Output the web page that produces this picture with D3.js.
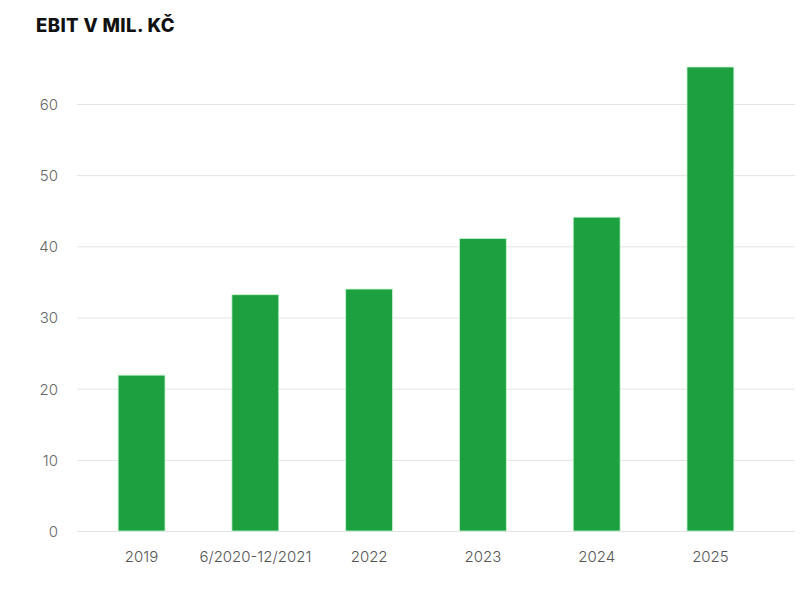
<!DOCTYPE html>
<html><head><meta charset="utf-8">
<script src="https://cdn.jsdelivr.net/npm/d3@7"></script>
<style>
html,body{margin:0;padding:0;background:#fff;}
svg{display:block;}
</style></head>
<body>
<svg id="chart" width="810" height="591"></svg>
<script>
const title = "EBIT V MIL. KČ";
const categories = ["2019", "6/2020-12/2021", "2022", "2023", "2024", "2025"];
const values = [21.9, 33.2, 34.0, 41.1, 44.1, 65.2];
const yTicks = [0, 10, 20, 30, 40, 50, 60];

const W = 810, H = 591;
const svg = d3.select("#chart");
const font = "Inter, 'Open Sans', sans-serif";

const plotLeft = 77, plotRight = 795, y0 = 531, y60 = 104;
const y = d3.scaleLinear().domain([0, 60]).range([y0, y60]);
const x = d3.scaleBand().domain(categories).range([84, 768]).paddingInner(0.588).paddingOuter(0.3);

svg.append("text").attr("x", 36).attr("y", 32)
  .attr("font-family", font).attr("font-weight", 800).attr("font-size", 18.5)
  .attr("fill", "#111").attr("letter-spacing", 0.4).text(title);

const yAxis = d3.axisLeft(y).tickValues(yTicks).tickSize(-(plotRight - plotLeft)).tickPadding(19);
const gy = svg.append("g").attr("transform", `translate(${plotLeft},0)`).call(yAxis);
gy.select(".domain").remove();
gy.selectAll(".tick line").attr("stroke", "#e3e3e3").attr("stroke-width", 1);
gy.selectAll(".tick text").attr("font-family", font).attr("font-size", 15).attr("font-weight", 300)
  .attr("fill", "#666").attr("dy", "0.36em");

svg.append("g").selectAll("rect").data(values).join("rect")
  .attr("x", (d, i) => x(categories[i]))
  .attr("width", x.bandwidth())
  .attr("y", d => y(d))
  .attr("height", d => y(0) - y(d))
  .attr("fill", "#1da040")
  .attr("stroke", "#c9f5d2").attr("stroke-width", 0.8);

const xAxis = d3.axisBottom(x).tickSize(0).tickPadding(20);
const gx = svg.append("g").attr("transform", `translate(0,${y0})`).call(xAxis);
gx.select(".domain").remove();
gx.selectAll(".tick text").attr("font-family", font).attr("font-size", 15).attr("font-weight", 300).attr("fill", "#555");
</script>
</body></html>
